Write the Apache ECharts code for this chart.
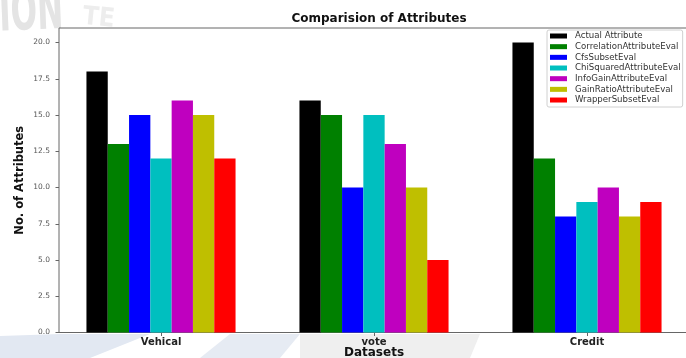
<!DOCTYPE html>
<html>
<head>
<meta charset="utf-8">
<script src="https://cdn.jsdelivr.net/npm/echarts@6/dist/echarts.min.js"></script>
<style>
  html, body { margin: 0; padding: 0; background: #fff; }
  #chart { width: 686px; height: 358px; }
</style>
</head>
<body>
<div id="chart"></div>
<script>
// Datasets on the x axis
const categories = ['Vehical', 'vote', 'Credit'];

// Number of attributes chosen by each evaluator, per dataset
const actualAttribute = [18, 16, 20];
const correlationAttributeEval = [13, 15, 12];
const cfsSubsetEval = [15, 10, 8];
const chiSquaredAttributeEval = [12, 15, 9];
const infoGainAttributeEval = [16, 13, 10];
const gainRatioAttributeEval = [15, 10, 8];
const wrapperSubsetEval = [12, 5, 9];

const seriesNames = [
  'Actual Attribute',
  'CorrelationAttributeEval',
  'CfsSubsetEval',
  'ChiSquaredAttributeEval',
  'InfoGainAttributeEval',
  'GainRatioAttributeEval',
  'WrapperSubsetEval'
];
const seriesValues = [
  actualAttribute,
  correlationAttributeEval,
  cfsSubsetEval,
  chiSquaredAttributeEval,
  infoGainAttributeEval,
  gainRatioAttributeEval,
  wrapperSubsetEval
];
const seriesColors = ['#000000', '#008000', '#0000ff', '#00bfbf', '#bf00bf', '#bfbf00', '#ff0000'];

// y tick values (axis runs 0..21)
const yMin = 0, yMax = 21, yStep = 2.5;

const FONT = 'DejaVu Sans';
const chart = echarts.init(document.getElementById('chart'), null, { renderer: 'canvas' });

const series = seriesNames.map((name, i) => ({
  name: name,
  type: 'bar',
  xAxisIndex: 1,
  yAxisIndex: 1,
  data: seriesValues[i],
  itemStyle: { color: seriesColors[i] },
  barGap: '0%',
  barCategoryGap: '30%',
  animation: false
}));

chart.setOption({
  backgroundColor: '#ffffff',
  animation: false,
  // faint watermark behind the figure
  graphic: [
    {
      type: 'text', z: -10, x: -2, y: -12, scaleX: 0.62, rotation: 0.04,
      style: { text: 'ION', fill: '#e4e4e4', font: 'bold 56px "DejaVu Sans Condensed"' }
    },
    {
      type: 'text', z: -10, x: 84, y: 4, rotation: -0.1,
      style: { text: 'TE', fill: '#ededed', font: 'bold 26px "DejaVu Sans Condensed"' }
    },
    {
      type: 'polygon', z: -10,
      shape: { points: [[0, 358], [0, 336], [60, 334], [150, 334], [90, 358]] },
      style: { fill: '#e2e8f2' }
    },
    {
      type: 'polygon', z: -10,
      shape: { points: [[200, 358], [230, 334], [300, 334], [280, 358]] },
      style: { fill: '#e6ebf3' }
    },
    {
      type: 'polygon', z: -10,
      shape: { points: [[300, 358], [300, 334], [480, 334], [470, 358]] },
      style: { fill: '#efefef' }
    }
  ],
  title: {
    text: 'Comparision of Attributes',
    left: 374,
    textAlign: 'center',
    top: 8,
    textStyle: { fontFamily: FONT, fontWeight: 'bold', fontSize: 12, color: '#111' }
  },
  legend: {
    orient: 'vertical',
    left: 547,
    top: 30,
    padding: [1, 2, 2, 3],
    itemWidth: 17,
    itemHeight: 5,
    itemGap: 0.67,
    icon: 'rect',
    data: seriesNames,
    backgroundColor: 'rgba(255,255,255,0.9)',
    borderColor: '#d0d0d0',
    borderWidth: 1,
    borderRadius: 2,
    textStyle: { fontFamily: FONT, fontSize: 8.6, lineHeight: 10, color: '#333', padding: [0, 0, 0, 3] }
  },
  grid: [
    // plot frame
    { left: 59, right: -3, top: 28, bottom: 25.5, outerBoundsMode: 'none', containLabel: false,
      show: true, backgroundColor: '#ffffff', borderColor: '#666', borderWidth: 1 },
    // bars
    { left: 54.5, right: -7.5, top: 28, bottom: 25.5, outerBoundsMode: 'none', containLabel: false }
  ],
  xAxis: [
    { type: 'value', gridIndex: 0, show: false, min: 0, max: 1 },
    {
      type: 'category',
      gridIndex: 1,
      data: categories,
      axisLine: { show: false },
      axisTick: { show: true, alignWithLabel: true, length: 3.5, lineStyle: { color: '#666' } },
      axisLabel: { fontFamily: FONT, fontWeight: 'bold', fontSize: 10, color: '#222', margin: 5 },
      name: 'Datasets',
      nameLocation: 'middle',
      nameGap: 14,
      nameMoveOverlap: false,
      nameTextStyle: { fontFamily: FONT, fontWeight: 'bold', fontSize: 12, color: '#111' }
    }
  ],
  yAxis: [
    {
      type: 'value',
      gridIndex: 0,
      min: yMin,
      max: yMax,
      interval: yStep,
      axisLine: { show: false },
      splitLine: { show: false },
      axisTick: { show: true, length: 3.5, lineStyle: { color: '#666' } },
      axisLabel: {
        fontFamily: FONT, fontSize: 7.5, color: '#555', margin: 9, showMaxLabel: false,
        formatter: v => (v > 20 ? '' : v.toFixed(1))
      },
      name: 'No. of Attributes',
      nameLocation: 'middle',
      nameGap: 33,
      nameMoveOverlap: false,
      nameTextStyle: { fontFamily: FONT, fontWeight: 'bold', fontSize: 11.5, color: '#111' }
    },
    { type: 'value', gridIndex: 1, min: yMin, max: yMax, show: false, splitLine: { show: false } }
  ],
  series: series
});
</script>
</body>
</html>
